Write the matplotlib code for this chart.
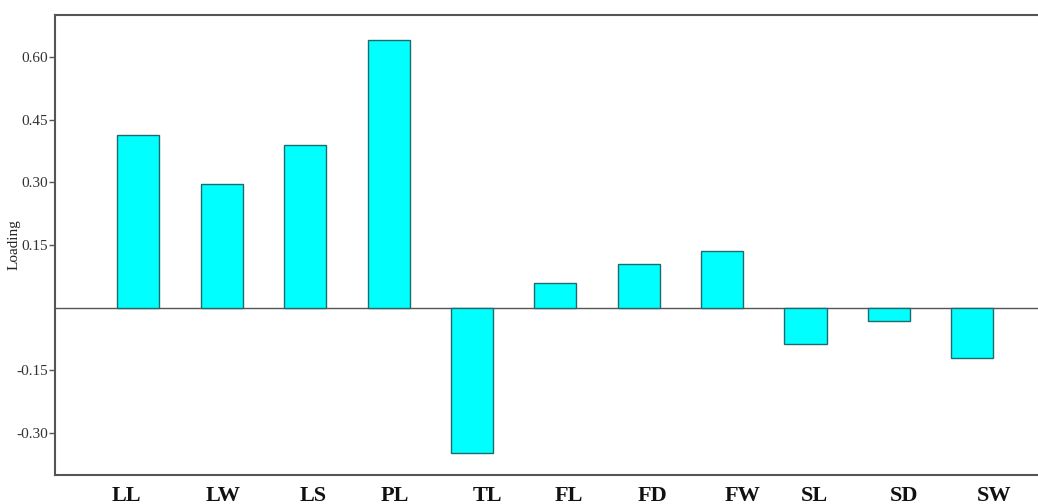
import numpy as np
import matplotlib
matplotlib.use("Agg")
import matplotlib.pyplot as plt

# loading of each trait
traits = ["LL", "LW", "LS", "PL", "TL", "FL", "FD", "FW", "SL", "SD", "SW"]
loadings = [0.414, 0.295, 0.388, 0.640, -0.348, 0.060, 0.105, 0.136, -0.086, -0.033, -0.121]
ytick_vals = [-0.30, -0.15, 0.15, 0.30, 0.45, 0.60]
ytick_text = ["-0.30", "-0.15", "0.15", "0.30", "0.45", "0.60"]

# the category labels sit a little off the bar centres in the original
label_shift = [-0.15, 0.02, 0.09, 0.07, 0.18, 0.16, 0.17, 0.25, 0.11, 0.18, 0.26]

plt.rcParams["font.family"] = ["Liberation Serif", "DejaVu Serif"]

fig = plt.figure(figsize=(10.38, 5.04), dpi=100)
ax = fig.add_axes([0.053, 0.058, 0.96, 0.912])

x = np.arange(len(traits))
ax.bar(x, loadings, width=0.505, color="#00FFFF", edgecolor="#1f6b6b", linewidth=1.0, zorder=3)
ax.axhline(0, color="#555555", linewidth=1.0, zorder=2)

ax.set_xlim(-1.0, 10.95)
ax.set_ylim(-0.40, 0.70)

ax.set_yticks(ytick_vals)
ax.set_yticklabels(ytick_text, fontsize=11, color="#333333")
ax.tick_params(axis="y", direction="out", length=4, width=1, color="#555555", pad=1)

ax.set_xticks(x + np.array(label_shift))
ax.set_xticklabels(traits, fontsize=16, fontweight="bold", color="#111111")
ax.tick_params(axis="x", length=0, pad=8)

ax.set_ylabel("Loading", fontsize=11, color="#222222")
ax.yaxis.set_label_coords(-0.035, 0.50)

for side in ["left", "bottom", "top"]:
    ax.spines[side].set_color("#555555")
    ax.spines[side].set_linewidth(1.5)
ax.spines["right"].set_visible(False)

fig.savefig("out.png", dpi=100)
